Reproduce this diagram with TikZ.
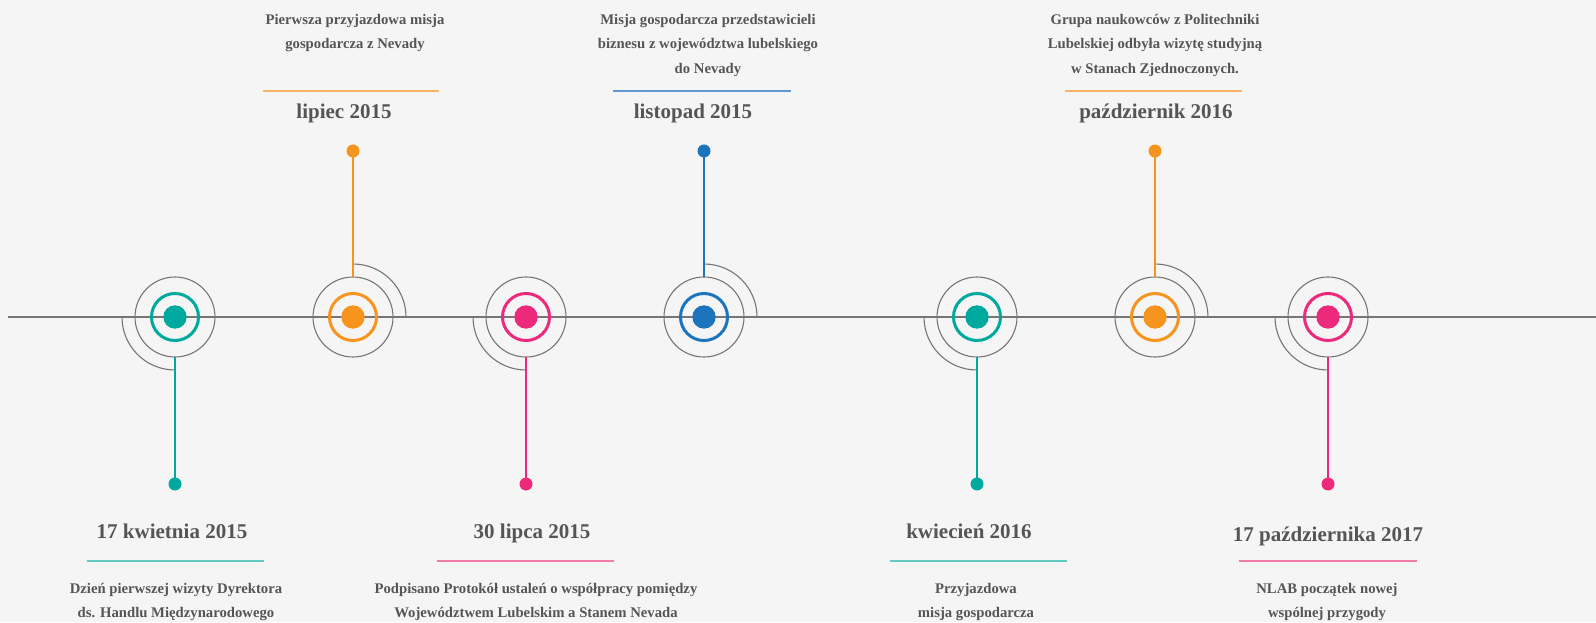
\documentclass[tikz,border=0pt]{standalone}
\usepackage{fontspec}
\setmainfont{Liberation Serif}
\usepackage{xcolor}
\usepackage{tikz}

\definecolor{bgcol}{HTML}{F5F5F5}
\definecolor{linecol}{HTML}{767676}
\definecolor{textcol}{HTML}{555555}
\definecolor{cteal}{HTML}{00A99D}
\definecolor{corange}{HTML}{F7941D}
\definecolor{cpink}{HTML}{EC297B}
\definecolor{cblue}{HTML}{1C75BC}
\definecolor{lteal}{HTML}{62C9C3}
\definecolor{lorange}{HTML}{F9B467}
\definecolor{lpink}{HTML}{F07CA9}
\definecolor{lblue}{HTML}{5E97D1}

\begin{document}
\begin{tikzpicture}[x=1pt, y=1pt]
% Define styles
\tikzstyle{eventdot} = [circle, inner sep=0pt, outer sep=0pt, minimum size=23.4pt]
\tikzstyle{ring} = [circle, draw, line width=3pt, inner sep=0pt, outer sep=0pt, minimum size=47pt]
\tikzstyle{halo} = [circle, draw=linecol, line width=1.1pt, inner sep=0pt, outer sep=0pt, minimum size=80pt]
\tikzstyle{arcline} = [draw=linecol, line width=1.1pt]
\tikzstyle{stem} = [line width=2pt]
\tikzstyle{enddot} = [circle, inner sep=0pt, outer sep=0pt, minimum size=13pt]
\tikzstyle{date} = [text=textcol, inner sep=0pt, anchor=base, font=\fontsize{21}{25}\selectfont\bfseries]
\tikzstyle{desc} = [text=textcol, inner sep=0pt, anchor=north, align=center, font=\fontsize{14.7}{24.5}\selectfont\bfseries]
\tikzstyle{dateline} = [line width=1.5pt]

% Background
\fill[bgcol] (0,0) rectangle (1596,622);
\useasboundingbox (0,0) rectangle (1596,622);

% Timeline
\coordinate (start) at (8,305);
\coordinate (end) at (1596,305);
\draw[linecol, line width=1.3pt] (start) -- (end);

% 17 kwietnia 2015
\node[eventdot, fill=cteal] (kwi15) at (175,305) {};
\node[ring, draw=cteal] at (kwi15) {};
\node[halo] (kwi15halo) at (kwi15) {};
\draw[arcline] (kwi15) ++(180:53) arc[start angle=180, end angle=270, radius=53];
\node[enddot, fill=cteal] (kwi15end) at (175,138) {};
\draw[stem, cteal] (kwi15halo.south) -- (kwi15end);
\node[date] (kwi15date) at (172,84) {17 kwietnia 2015};
\draw[dateline, lteal] (87,61) -- (264,61);
\node[desc] (kwi15text) at (176,39) {Dzień pierwszej wizyty Dyrektora\\ds. Handlu Międzynarodowego};

% lipiec 2015
\node[eventdot, fill=corange] (lip15) at (353,305) {};
\node[ring, draw=corange] at (lip15) {};
\node[halo] (lip15halo) at (lip15) {};
\draw[arcline] (lip15) ++(90:53) arc[start angle=90, end angle=0, radius=53];
\node[enddot, fill=corange] (lip15end) at (353,471) {};
\draw[stem, corange] (lip15halo.north) -- (lip15end);
\node[desc] (lip15text) at (355,608) {Pierwsza przyjazdowa misja\\gospodarcza z Nevady};
\draw[dateline, lorange] (263,531) -- (439,531);
\node[date] (lip15date) at (344,503) {lipiec 2015};

% 30 lipca 2015
\node[eventdot, fill=cpink] (lip30) at (526,305) {};
\node[ring, draw=cpink] at (lip30) {};
\node[halo] (lip30halo) at (lip30) {};
\draw[arcline] (lip30) ++(180:53) arc[start angle=180, end angle=270, radius=53];
\node[enddot, fill=cpink] (lip30end) at (526,138) {};
\draw[stem, cpink] (lip30halo.south) -- (lip30end);
\node[date] (lip30date) at (532,84) {30 lipca 2015};
\draw[dateline, lpink] (437,61) -- (614,61);
\node[desc] (lip30text) at (536,39) {Podpisano Protokół ustaleń o współpracy pomiędzy\\Województwem Lubelskim a Stanem Nevada};

% listopad 2015
\node[eventdot, fill=cblue] (lis15) at (704,305) {};
\node[ring, draw=cblue] at (lis15) {};
\node[halo] (lis15halo) at (lis15) {};
\draw[arcline] (lis15) ++(90:53) arc[start angle=90, end angle=0, radius=53];
\node[enddot, fill=cblue] (lis15end) at (704,471) {};
\draw[stem, cblue] (lis15halo.north) -- (lis15end);
\node[desc] (lis15text) at (708,608) {Misja gospodarcza przedstawicieli\\biznesu z województwa lubelskiego\\do Nevady};
\draw[dateline, lblue] (613,531) -- (791,531);
\node[date] (lis15date) at (693,503) {listopad 2015};

% kwiecien 2016
\node[eventdot, fill=cteal] (kwi16) at (977,305) {};
\node[ring, draw=cteal] at (kwi16) {};
\node[halo] (kwi16halo) at (kwi16) {};
\draw[arcline] (kwi16) ++(180:53) arc[start angle=180, end angle=270, radius=53];
\node[enddot, fill=cteal] (kwi16end) at (977,138) {};
\draw[stem, cteal] (kwi16halo.south) -- (kwi16end);
\node[date] (kwi16date) at (969,84) {kwiecień 2016};
\draw[dateline, lteal] (890,61) -- (1067,61);
\node[desc] (kwi16text) at (976,39) {Przyjazdowa\\misja gospodarcza};

% pazdziernik 2016
\node[eventdot, fill=corange] (paz16) at (1155,305) {};
\node[ring, draw=corange] at (paz16) {};
\node[halo] (paz16halo) at (paz16) {};
\draw[arcline] (paz16) ++(90:53) arc[start angle=90, end angle=0, radius=53];
\node[enddot, fill=corange] (paz16end) at (1155,471) {};
\draw[stem, corange] (paz16halo.north) -- (paz16end);
\node[desc] (paz16text) at (1155,608) {Grupa naukowców z Politechniki\\Lubelskiej odbyła wizytę studyjną\\w Stanach Zjednoczonych.};
\draw[dateline, lorange] (1065,531) -- (1242,531);
\node[date] (paz16date) at (1156,503) {październik 2016};

% 17 pazdziernika 2017
\node[eventdot, fill=cpink] (paz17) at (1328,305) {};
\node[ring, draw=cpink] at (paz17) {};
\node[halo] (paz17halo) at (paz17) {};
\draw[arcline] (paz17) ++(180:53) arc[start angle=180, end angle=270, radius=53];
\node[enddot, fill=cpink] (paz17end) at (1328,138) {};
\draw[stem, cpink] (paz17halo.south) -- (paz17end);
\node[date] (paz17date) at (1328,81) {17 października 2017};
\draw[dateline, lpink] (1239,61) -- (1417,61);
\node[desc] (paz17text) at (1327,39) {NLAB początek nowej\\wspólnej przygody};

\end{tikzpicture}
\end{document}
